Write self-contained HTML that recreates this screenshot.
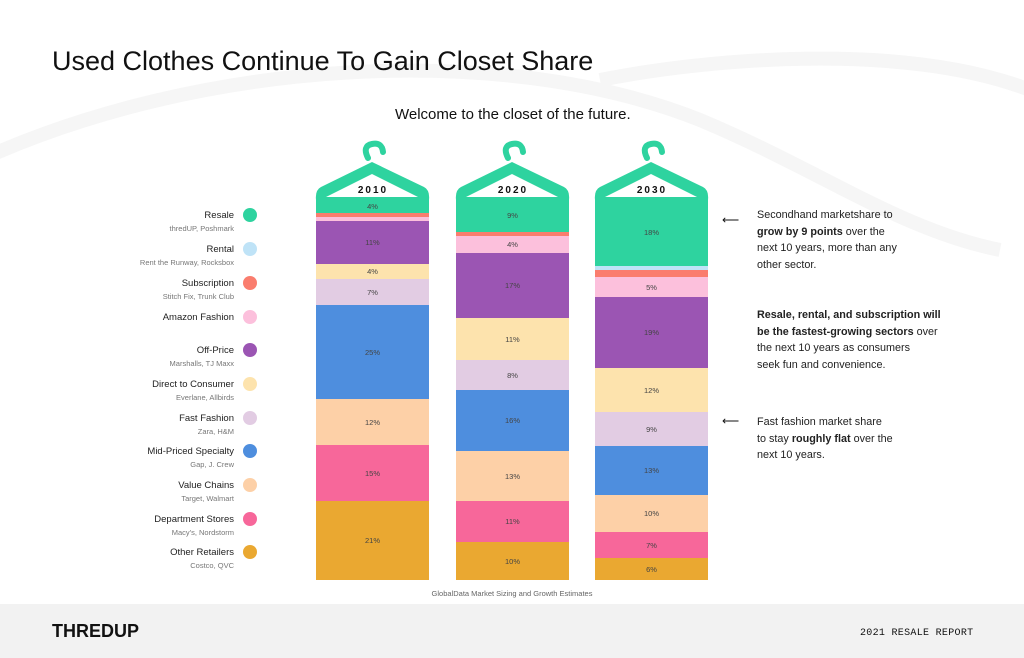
<!DOCTYPE html>
<html><head><style>
body{margin:0;width:1024px;height:658px;background:#fff;font-family:"Liberation Sans",sans-serif;position:relative;overflow:hidden;color:#111}
.a{position:absolute}
.t{font-size:27px;left:52px;top:46px}
.sub{font-size:15px;left:395px;top:106px}
.ln{position:absolute;left:0;width:234px;text-align:right;font-size:9.5px;color:#222}
.ln small{display:block;font-size:7.5px;color:#777;margin-top:3px}
.dot{position:absolute;left:243px;width:14px;height:14px;border-radius:50%}
.seg{position:absolute;font-size:7.5px;color:#444;display:flex;align-items:center;justify-content:center;width:113px}
.note{font-size:10.8px;line-height:16.5px;color:#222;left:757px}
.foot{left:0;top:604px;width:1024px;height:54px;background:#f2f2f2}
</style></head><body>
<svg class="a" style="left:0;top:0" width="1024" height="604"><path d="M-20 160 C200 60 500 40 700 120 C820 170 900 230 1000 250 M600 80 C700 60 900 40 1030 90" stroke="#f6f6f6" stroke-width="14" fill="none"/></svg>
<div class="a t">Used Clothes Continue To Gain Closet Share</div>
<div class="a sub">Welcome to the closet of the future.</div>

<div class="ln" style="top:210px">Resale<small>thredUP, Poshmark</small></div><div class="dot" style="top:208px;background:#2ed39f"></div>
<div class="ln" style="top:244px">Rental<small>Rent the Runway, Rocksbox</small></div><div class="dot" style="top:242px;background:#bfe3f7"></div>
<div class="ln" style="top:278px">Subscription<small>Stitch Fix, Trunk Club</small></div><div class="dot" style="top:276px;background:#fa7d6e"></div>
<div class="ln" style="top:312px">Amazon Fashion</div><div class="dot" style="top:310px;background:#fcc0dc"></div>
<div class="ln" style="top:345px">Off-Price<small>Marshalls, TJ Maxx</small></div><div class="dot" style="top:343px;background:#9b55b3"></div>
<div class="ln" style="top:379px">Direct to Consumer<small>Everlane, Allbirds</small></div><div class="dot" style="top:377px;background:#fde3ad"></div>
<div class="ln" style="top:413px">Fast Fashion<small>Zara, H&amp;M</small></div><div class="dot" style="top:411px;background:#e2cce3"></div>
<div class="ln" style="top:446px">Mid-Priced Specialty<small>Gap, J. Crew</small></div><div class="dot" style="top:444px;background:#4e8ede"></div>
<div class="ln" style="top:480px">Value Chains<small>Target, Walmart</small></div><div class="dot" style="top:478px;background:#fdd0a7"></div>
<div class="ln" style="top:514px">Department Stores<small>Macy's, Nordstorm</small></div><div class="dot" style="top:512px;background:#f7679a"></div>
<div class="ln" style="top:547px">Other Retailers<small>Costco, QVC</small></div><div class="dot" style="top:545px;background:#eaa831"></div>

<svg class="a" style="left:0;top:0" width="1024" height="604">
<g id="h" fill="#2ed39f">
<path d="M368 158 q-6 -12 4 -14 q10 -2 11 8" stroke="#2ed39f" stroke-width="6" fill="none" stroke-linecap="round"/>
<path d="M372 162 L424 187 Q430 190 429 200 L316 200 Q315 190 321 187 Z"/>
<path d="M372 174 L418 197 L326 197 Z" fill="#fff"/>
</g>
<use href="#h" x="140"/><use href="#h" x="279"/>
<g font-size="10" font-weight="bold" letter-spacing="2" text-anchor="middle" fill="#111">
<text x="373" y="193">2010</text><text x="513" y="193">2020</text><text x="652" y="193">2030</text></g>
</svg>

<div class="seg" style="left:316px;top:199px;height:14px;background:#2ed39f">4%</div>
<div class="seg" style="left:316px;top:213px;height:4px;background:#fa7d6e"></div>
<div class="seg" style="left:316px;top:217px;height:4px;background:#fcc0dc"></div>
<div class="seg" style="left:316px;top:221px;height:43px;background:#9b55b3">11%</div>
<div class="seg" style="left:316px;top:264px;height:15px;background:#fde3ad">4%</div>
<div class="seg" style="left:316px;top:279px;height:26px;background:#e2cce3">7%</div>
<div class="seg" style="left:316px;top:305px;height:94px;background:#4e8ede">25%</div>
<div class="seg" style="left:316px;top:399px;height:46px;background:#fdd0a7">12%</div>
<div class="seg" style="left:316px;top:445px;height:56px;background:#f7679a">15%</div>
<div class="seg" style="left:316px;top:501px;height:79px;background:#eaa831">21%</div>

<div class="seg" style="left:456px;top:199px;height:33px;background:#2ed39f">9%</div>
<div class="seg" style="left:456px;top:232px;height:4px;background:#fa7d6e"></div>
<div class="seg" style="left:456px;top:236px;height:17px;background:#fcc0dc">4%</div>
<div class="seg" style="left:456px;top:253px;height:65px;background:#9b55b3">17%</div>
<div class="seg" style="left:456px;top:318px;height:42px;background:#fde3ad">11%</div>
<div class="seg" style="left:456px;top:360px;height:30px;background:#e2cce3">8%</div>
<div class="seg" style="left:456px;top:390px;height:61px;background:#4e8ede">16%</div>
<div class="seg" style="left:456px;top:451px;height:50px;background:#fdd0a7">13%</div>
<div class="seg" style="left:456px;top:501px;height:41px;background:#f7679a">11%</div>
<div class="seg" style="left:456px;top:542px;height:38px;background:#eaa831">10%</div>

<div class="seg" style="left:595px;top:199px;height:67px;background:#2ed39f">18%</div>
<div class="seg" style="left:595px;top:266px;height:4px;background:#bfe3f7"></div>
<div class="seg" style="left:595px;top:270px;height:7px;background:#fa7d6e"></div>
<div class="seg" style="left:595px;top:277px;height:20px;background:#fcc0dc">5%</div>
<div class="seg" style="left:595px;top:297px;height:71px;background:#9b55b3">19%</div>
<div class="seg" style="left:595px;top:368px;height:44px;background:#fde3ad">12%</div>
<div class="seg" style="left:595px;top:412px;height:34px;background:#e2cce3">9%</div>
<div class="seg" style="left:595px;top:446px;height:49px;background:#4e8ede">13%</div>
<div class="seg" style="left:595px;top:495px;height:37px;background:#fdd0a7">10%</div>
<div class="seg" style="left:595px;top:532px;height:26px;background:#f7679a">7%</div>
<div class="seg" style="left:595px;top:558px;height:22px;background:#eaa831">6%</div>

<div class="a" style="left:722px;top:213px;font-size:12px">⟵</div>
<div class="a note" style="top:207px">Secondhand marketshare to<br><b>grow by 9 points</b> over the<br>next 10 years, more than any<br>other sector.</div>
<div class="a note" style="top:307px"><b>Resale, rental, and subscription will<br>be the fastest-growing sectors</b> over<br>the next 10 years as consumers<br>seek fun and convenience.</div>
<div class="a" style="left:722px;top:414px;font-size:12px">⟵</div>
<div class="a note" style="top:414px">Fast fashion market share<br>to stay <b>roughly flat</b> over the<br>next 10 years.</div>

<div class="a" style="left:0;width:1024px;text-align:center;top:589px;font-size:7.5px;color:#666">GlobalData Market Sizing and Growth Estimates</div>
<div class="a foot"></div>
<div class="a" style="left:52px;top:621px;font-size:18px;font-weight:900">THREDUP</div>
<div class="a" style="left:860px;top:628px;font-size:10px;letter-spacing:0.3px;font-family:'Liberation Mono',monospace">2021 RESALE REPORT</div>
</body></html>
